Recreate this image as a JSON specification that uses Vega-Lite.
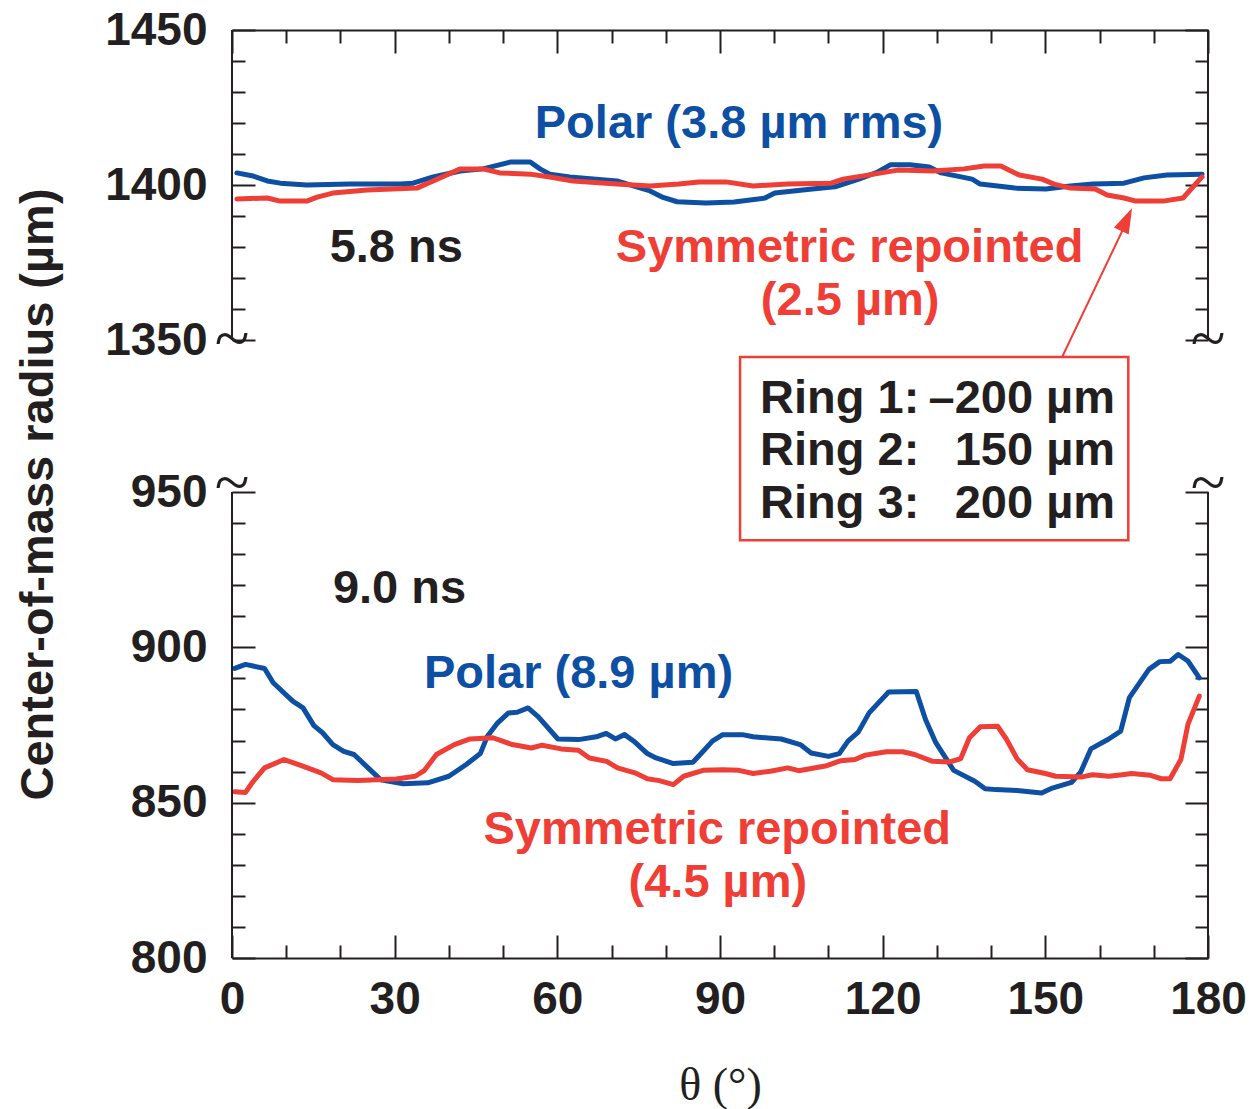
{
  "$schema": "https://vega.github.io/schema/vega-lite/v6.json",
  "width": 976,
  "height": 928,
  "autosize": "none",
  "padding": {"left": 232, "top": 30, "right": 44, "bottom": 151},
  "background": "white",
  "config": {"view": {"stroke": null}, "font": "Liberation Sans"},
  "datasets": {
    "curves": [
      {"time": "5.8 ns", "design": "Polar", "theta": 0.9, "radius": 1403.9},
      {"time": "5.8 ns", "design": "Polar", "theta": 3.9, "radius": 1402.9},
      {"time": "5.8 ns", "design": "Polar", "theta": 6.5, "radius": 1401.3},
      {"time": "5.8 ns", "design": "Polar", "theta": 8.9, "radius": 1400.6},
      {"time": "5.8 ns", "design": "Polar", "theta": 13.8, "radius": 1400.0},
      {"time": "5.8 ns", "design": "Polar", "theta": 21.8, "radius": 1400.3},
      {"time": "5.8 ns", "design": "Polar", "theta": 31.0, "radius": 1400.3},
      {"time": "5.8 ns", "design": "Polar", "theta": 33.4, "radius": 1400.6},
      {"time": "5.8 ns", "design": "Polar", "theta": 37.1, "radius": 1402.6},
      {"time": "5.8 ns", "design": "Polar", "theta": 42.1, "radius": 1404.5},
      {"time": "5.8 ns", "design": "Polar", "theta": 46.3, "radius": 1405.2},
      {"time": "5.8 ns", "design": "Polar", "theta": 51.3, "radius": 1407.4},
      {"time": "5.8 ns", "design": "Polar", "theta": 55.0, "radius": 1407.4},
      {"time": "5.8 ns", "design": "Polar", "theta": 56.8, "radius": 1405.2},
      {"time": "5.8 ns", "design": "Polar", "theta": 58.6, "radius": 1403.5},
      {"time": "5.8 ns", "design": "Polar", "theta": 62.3, "radius": 1402.6},
      {"time": "5.8 ns", "design": "Polar", "theta": 66.6, "radius": 1401.9},
      {"time": "5.8 ns", "design": "Polar", "theta": 71.0, "radius": 1401.3},
      {"time": "5.8 ns", "design": "Polar", "theta": 74.0, "radius": 1399.7},
      {"time": "5.8 ns", "design": "Polar", "theta": 77.1, "radius": 1398.1},
      {"time": "5.8 ns", "design": "Polar", "theta": 79.5, "radius": 1396.0},
      {"time": "5.8 ns", "design": "Polar", "theta": 82.1, "radius": 1394.6},
      {"time": "5.8 ns", "design": "Polar", "theta": 87.4, "radius": 1394.2},
      {"time": "5.8 ns", "design": "Polar", "theta": 92.6, "radius": 1394.5},
      {"time": "5.8 ns", "design": "Polar", "theta": 98.3, "radius": 1395.8},
      {"time": "5.8 ns", "design": "Polar", "theta": 100.1, "radius": 1397.4},
      {"time": "5.8 ns", "design": "Polar", "theta": 107.0, "radius": 1398.7},
      {"time": "5.8 ns", "design": "Polar", "theta": 111.2, "radius": 1399.4},
      {"time": "5.8 ns", "design": "Polar", "theta": 115.6, "radius": 1401.9},
      {"time": "5.8 ns", "design": "Polar", "theta": 119.1, "radius": 1404.2},
      {"time": "5.8 ns", "design": "Polar", "theta": 121.4, "radius": 1406.5},
      {"time": "5.8 ns", "design": "Polar", "theta": 125.0, "radius": 1406.5},
      {"time": "5.8 ns", "design": "Polar", "theta": 128.6, "radius": 1405.8},
      {"time": "5.8 ns", "design": "Polar", "theta": 130.8, "radius": 1403.9},
      {"time": "5.8 ns", "design": "Polar", "theta": 136.5, "radius": 1401.9},
      {"time": "5.8 ns", "design": "Polar", "theta": 138.0, "radius": 1400.3},
      {"time": "5.8 ns", "design": "Polar", "theta": 144.4, "radius": 1399.0},
      {"time": "5.8 ns", "design": "Polar", "theta": 150.1, "radius": 1398.7},
      {"time": "5.8 ns", "design": "Polar", "theta": 154.6, "radius": 1399.7},
      {"time": "5.8 ns", "design": "Polar", "theta": 158.8, "radius": 1400.3},
      {"time": "5.8 ns", "design": "Polar", "theta": 164.5, "radius": 1400.6},
      {"time": "5.8 ns", "design": "Polar", "theta": 168.2, "radius": 1402.3},
      {"time": "5.8 ns", "design": "Polar", "theta": 172.4, "radius": 1403.2},
      {"time": "5.8 ns", "design": "Polar", "theta": 178.9, "radius": 1403.5},
      {"time": "5.8 ns", "design": "Symmetric repointed", "theta": 0.9, "radius": 1395.5},
      {"time": "5.8 ns", "design": "Symmetric repointed", "theta": 6.5, "radius": 1395.8},
      {"time": "5.8 ns", "design": "Symmetric repointed", "theta": 8.9, "radius": 1394.8},
      {"time": "5.8 ns", "design": "Symmetric repointed", "theta": 13.8, "radius": 1394.8},
      {"time": "5.8 ns", "design": "Symmetric repointed", "theta": 15.7, "radius": 1396.1},
      {"time": "5.8 ns", "design": "Symmetric repointed", "theta": 18.6, "radius": 1397.4},
      {"time": "5.8 ns", "design": "Symmetric repointed", "theta": 24.9, "radius": 1398.4},
      {"time": "5.8 ns", "design": "Symmetric repointed", "theta": 34.1, "radius": 1399.0},
      {"time": "5.8 ns", "design": "Symmetric repointed", "theta": 37.1, "radius": 1401.3},
      {"time": "5.8 ns", "design": "Symmetric repointed", "theta": 42.1, "radius": 1405.2},
      {"time": "5.8 ns", "design": "Symmetric repointed", "theta": 46.3, "radius": 1405.2},
      {"time": "5.8 ns", "design": "Symmetric repointed", "theta": 49.4, "radius": 1403.9},
      {"time": "5.8 ns", "design": "Symmetric repointed", "theta": 55.0, "radius": 1403.5},
      {"time": "5.8 ns", "design": "Symmetric repointed", "theta": 58.6, "radius": 1402.6},
      {"time": "5.8 ns", "design": "Symmetric repointed", "theta": 62.9, "radius": 1401.3},
      {"time": "5.8 ns", "design": "Symmetric repointed", "theta": 71.0, "radius": 1400.3},
      {"time": "5.8 ns", "design": "Symmetric repointed", "theta": 77.1, "radius": 1399.7},
      {"time": "5.8 ns", "design": "Symmetric repointed", "theta": 82.4, "radius": 1400.3},
      {"time": "5.8 ns", "design": "Symmetric repointed", "theta": 86.1, "radius": 1401.0},
      {"time": "5.8 ns", "design": "Symmetric repointed", "theta": 91.1, "radius": 1401.0},
      {"time": "5.8 ns", "design": "Symmetric repointed", "theta": 96.1, "radius": 1399.7},
      {"time": "5.8 ns", "design": "Symmetric repointed", "theta": 102.5, "radius": 1400.3},
      {"time": "5.8 ns", "design": "Symmetric repointed", "theta": 110.5, "radius": 1400.6},
      {"time": "5.8 ns", "design": "Symmetric repointed", "theta": 112.7, "radius": 1401.9},
      {"time": "5.8 ns", "design": "Symmetric repointed", "theta": 118.4, "radius": 1403.5},
      {"time": "5.8 ns", "design": "Symmetric repointed", "theta": 122.8, "radius": 1404.8},
      {"time": "5.8 ns", "design": "Symmetric repointed", "theta": 129.3, "radius": 1404.5},
      {"time": "5.8 ns", "design": "Symmetric repointed", "theta": 135.0, "radius": 1405.2},
      {"time": "5.8 ns", "design": "Symmetric repointed", "theta": 138.7, "radius": 1406.1},
      {"time": "5.8 ns", "design": "Symmetric repointed", "theta": 141.8, "radius": 1406.1},
      {"time": "5.8 ns", "design": "Symmetric repointed", "theta": 145.2, "radius": 1403.2},
      {"time": "5.8 ns", "design": "Symmetric repointed", "theta": 149.4, "radius": 1401.9},
      {"time": "5.8 ns", "design": "Symmetric repointed", "theta": 151.6, "radius": 1400.3},
      {"time": "5.8 ns", "design": "Symmetric repointed", "theta": 154.6, "radius": 1399.0},
      {"time": "5.8 ns", "design": "Symmetric repointed", "theta": 159.2, "radius": 1398.7},
      {"time": "5.8 ns", "design": "Symmetric repointed", "theta": 161.4, "radius": 1396.8},
      {"time": "5.8 ns", "design": "Symmetric repointed", "theta": 164.5, "radius": 1395.8},
      {"time": "5.8 ns", "design": "Symmetric repointed", "theta": 166.7, "radius": 1394.8},
      {"time": "5.8 ns", "design": "Symmetric repointed", "theta": 171.7, "radius": 1394.8},
      {"time": "5.8 ns", "design": "Symmetric repointed", "theta": 175.4, "radius": 1395.8},
      {"time": "5.8 ns", "design": "Symmetric repointed", "theta": 178.9, "radius": 1402.6},
      {"time": "9.0 ns", "design": "Polar", "theta": 0.5, "radius": 893.2},
      {"time": "9.0 ns", "design": "Polar", "theta": 2.5, "radius": 894.5},
      {"time": "9.0 ns", "design": "Polar", "theta": 6.0, "radius": 893.2},
      {"time": "9.0 ns", "design": "Polar", "theta": 7.6, "radius": 888.6},
      {"time": "9.0 ns", "design": "Polar", "theta": 11.2, "radius": 882.7},
      {"time": "9.0 ns", "design": "Polar", "theta": 13.1, "radius": 880.5},
      {"time": "9.0 ns", "design": "Polar", "theta": 15.1, "radius": 874.8},
      {"time": "9.0 ns", "design": "Polar", "theta": 16.7, "radius": 872.5},
      {"time": "9.0 ns", "design": "Polar", "theta": 18.6, "radius": 868.7},
      {"time": "9.0 ns", "design": "Polar", "theta": 20.6, "radius": 866.5},
      {"time": "9.0 ns", "design": "Polar", "theta": 22.5, "radius": 865.5},
      {"time": "9.0 ns", "design": "Polar", "theta": 25.1, "radius": 861.2},
      {"time": "9.0 ns", "design": "Polar", "theta": 27.4, "radius": 857.4},
      {"time": "9.0 ns", "design": "Polar", "theta": 31.6, "radius": 856.1},
      {"time": "9.0 ns", "design": "Polar", "theta": 36.1, "radius": 856.4},
      {"time": "9.0 ns", "design": "Polar", "theta": 40.0, "radius": 858.5},
      {"time": "9.0 ns", "design": "Polar", "theta": 43.2, "radius": 862.3},
      {"time": "9.0 ns", "design": "Polar", "theta": 45.8, "radius": 865.8},
      {"time": "9.0 ns", "design": "Polar", "theta": 47.1, "radius": 871.4},
      {"time": "9.0 ns", "design": "Polar", "theta": 49.0, "radius": 875.7},
      {"time": "9.0 ns", "design": "Polar", "theta": 51.0, "radius": 878.9},
      {"time": "9.0 ns", "design": "Polar", "theta": 52.6, "radius": 879.1},
      {"time": "9.0 ns", "design": "Polar", "theta": 54.6, "radius": 880.5},
      {"time": "9.0 ns", "design": "Polar", "theta": 56.5, "radius": 877.6},
      {"time": "9.0 ns", "design": "Polar", "theta": 60.1, "radius": 870.5},
      {"time": "9.0 ns", "design": "Polar", "theta": 63.9, "radius": 870.3},
      {"time": "9.0 ns", "design": "Polar", "theta": 67.2, "radius": 871.2},
      {"time": "9.0 ns", "design": "Polar", "theta": 69.0, "radius": 872.3},
      {"time": "9.0 ns", "design": "Polar", "theta": 70.7, "radius": 870.5},
      {"time": "9.0 ns", "design": "Polar", "theta": 72.4, "radius": 871.9},
      {"time": "9.0 ns", "design": "Polar", "theta": 74.3, "radius": 869.5},
      {"time": "9.0 ns", "design": "Polar", "theta": 76.6, "radius": 865.8},
      {"time": "9.0 ns", "design": "Polar", "theta": 78.2, "radius": 864.4},
      {"time": "9.0 ns", "design": "Polar", "theta": 81.4, "radius": 862.6},
      {"time": "9.0 ns", "design": "Polar", "theta": 85.0, "radius": 863.0},
      {"time": "9.0 ns", "design": "Polar", "theta": 86.6, "radius": 866.0},
      {"time": "9.0 ns", "design": "Polar", "theta": 88.6, "radius": 869.8},
      {"time": "9.0 ns", "design": "Polar", "theta": 90.5, "radius": 871.9},
      {"time": "9.0 ns", "design": "Polar", "theta": 94.1, "radius": 871.9},
      {"time": "9.0 ns", "design": "Polar", "theta": 96.1, "radius": 871.2},
      {"time": "9.0 ns", "design": "Polar", "theta": 101.3, "radius": 870.5},
      {"time": "9.0 ns", "design": "Polar", "theta": 104.8, "radius": 868.7},
      {"time": "9.0 ns", "design": "Polar", "theta": 106.8, "radius": 866.0},
      {"time": "9.0 ns", "design": "Polar", "theta": 110.0, "radius": 864.9},
      {"time": "9.0 ns", "design": "Polar", "theta": 112.0, "radius": 865.8},
      {"time": "9.0 ns", "design": "Polar", "theta": 113.6, "radius": 869.8},
      {"time": "9.0 ns", "design": "Polar", "theta": 115.5, "radius": 872.7},
      {"time": "9.0 ns", "design": "Polar", "theta": 117.5, "radius": 878.9},
      {"time": "9.0 ns", "design": "Polar", "theta": 121.1, "radius": 885.6},
      {"time": "9.0 ns", "design": "Polar", "theta": 126.2, "radius": 885.8},
      {"time": "9.0 ns", "design": "Polar", "theta": 127.9, "radius": 876.8},
      {"time": "9.0 ns", "design": "Polar", "theta": 129.8, "radius": 869.3},
      {"time": "9.0 ns", "design": "Polar", "theta": 133.1, "radius": 860.4},
      {"time": "9.0 ns", "design": "Polar", "theta": 137.0, "radius": 856.9},
      {"time": "9.0 ns", "design": "Polar", "theta": 138.9, "radius": 854.5},
      {"time": "9.0 ns", "design": "Polar", "theta": 140.9, "radius": 854.2},
      {"time": "9.0 ns", "design": "Polar", "theta": 144.8, "radius": 853.9},
      {"time": "9.0 ns", "design": "Polar", "theta": 149.3, "radius": 853.1},
      {"time": "9.0 ns", "design": "Polar", "theta": 151.3, "radius": 854.7},
      {"time": "9.0 ns", "design": "Polar", "theta": 154.8, "radius": 856.5},
      {"time": "9.0 ns", "design": "Polar", "theta": 156.5, "radius": 859.8},
      {"time": "9.0 ns", "design": "Polar", "theta": 158.4, "radius": 867.3},
      {"time": "9.0 ns", "design": "Polar", "theta": 161.7, "radius": 870.5},
      {"time": "9.0 ns", "design": "Polar", "theta": 163.9, "radius": 873.0},
      {"time": "9.0 ns", "design": "Polar", "theta": 165.5, "radius": 883.8},
      {"time": "9.0 ns", "design": "Polar", "theta": 169.1, "radius": 892.9},
      {"time": "9.0 ns", "design": "Polar", "theta": 171.1, "radius": 895.4},
      {"time": "9.0 ns", "design": "Polar", "theta": 173.0, "radius": 895.5},
      {"time": "9.0 ns", "design": "Polar", "theta": 174.5, "radius": 897.7},
      {"time": "9.0 ns", "design": "Polar", "theta": 176.3, "radius": 895.6},
      {"time": "9.0 ns", "design": "Polar", "theta": 178.4, "radius": 890.2},
      {"time": "9.0 ns", "design": "Symmetric repointed", "theta": 0.5, "radius": 853.5},
      {"time": "9.0 ns", "design": "Symmetric repointed", "theta": 2.5, "radius": 853.3},
      {"time": "9.0 ns", "design": "Symmetric repointed", "theta": 3.7, "radius": 856.4},
      {"time": "9.0 ns", "design": "Symmetric repointed", "theta": 6.0, "radius": 861.2},
      {"time": "9.0 ns", "design": "Symmetric repointed", "theta": 9.6, "radius": 863.9},
      {"time": "9.0 ns", "design": "Symmetric repointed", "theta": 12.8, "radius": 861.9},
      {"time": "9.0 ns", "design": "Symmetric repointed", "theta": 16.4, "radius": 859.6},
      {"time": "9.0 ns", "design": "Symmetric repointed", "theta": 18.6, "radius": 857.4},
      {"time": "9.0 ns", "design": "Symmetric repointed", "theta": 23.2, "radius": 857.1},
      {"time": "9.0 ns", "design": "Symmetric repointed", "theta": 30.3, "radius": 857.6},
      {"time": "9.0 ns", "design": "Symmetric repointed", "theta": 33.8, "radius": 858.5},
      {"time": "9.0 ns", "design": "Symmetric repointed", "theta": 35.5, "radius": 860.4},
      {"time": "9.0 ns", "design": "Symmetric repointed", "theta": 37.7, "radius": 865.5},
      {"time": "9.0 ns", "design": "Symmetric repointed", "theta": 41.0, "radius": 868.7},
      {"time": "9.0 ns", "design": "Symmetric repointed", "theta": 43.9, "radius": 870.5},
      {"time": "9.0 ns", "design": "Symmetric repointed", "theta": 48.1, "radius": 870.9},
      {"time": "9.0 ns", "design": "Symmetric repointed", "theta": 51.7, "radius": 868.7},
      {"time": "9.0 ns", "design": "Symmetric repointed", "theta": 55.2, "radius": 867.6},
      {"time": "9.0 ns", "design": "Symmetric repointed", "theta": 57.2, "radius": 868.5},
      {"time": "9.0 ns", "design": "Symmetric repointed", "theta": 60.7, "radius": 867.3},
      {"time": "9.0 ns", "design": "Symmetric repointed", "theta": 63.9, "radius": 866.9},
      {"time": "9.0 ns", "design": "Symmetric repointed", "theta": 65.9, "radius": 864.4},
      {"time": "9.0 ns", "design": "Symmetric repointed", "theta": 69.1, "radius": 863.3},
      {"time": "9.0 ns", "design": "Symmetric repointed", "theta": 71.1, "radius": 861.2},
      {"time": "9.0 ns", "design": "Symmetric repointed", "theta": 74.3, "radius": 859.6},
      {"time": "9.0 ns", "design": "Symmetric repointed", "theta": 76.6, "radius": 857.7},
      {"time": "9.0 ns", "design": "Symmetric repointed", "theta": 78.8, "radius": 857.1},
      {"time": "9.0 ns", "design": "Symmetric repointed", "theta": 81.4, "radius": 855.8},
      {"time": "9.0 ns", "design": "Symmetric repointed", "theta": 83.3, "radius": 858.5},
      {"time": "9.0 ns", "design": "Symmetric repointed", "theta": 86.9, "radius": 860.4},
      {"time": "9.0 ns", "design": "Symmetric repointed", "theta": 90.5, "radius": 860.6},
      {"time": "9.0 ns", "design": "Symmetric repointed", "theta": 93.5, "radius": 860.4},
      {"time": "9.0 ns", "design": "Symmetric repointed", "theta": 96.1, "radius": 859.4},
      {"time": "9.0 ns", "design": "Symmetric repointed", "theta": 99.3, "radius": 860.1},
      {"time": "9.0 ns", "design": "Symmetric repointed", "theta": 102.5, "radius": 861.2},
      {"time": "9.0 ns", "design": "Symmetric repointed", "theta": 104.5, "radius": 860.3},
      {"time": "9.0 ns", "design": "Symmetric repointed", "theta": 109.7, "radius": 861.9},
      {"time": "9.0 ns", "design": "Symmetric repointed", "theta": 112.3, "radius": 863.5},
      {"time": "9.0 ns", "design": "Symmetric repointed", "theta": 114.9, "radius": 863.9},
      {"time": "9.0 ns", "design": "Symmetric repointed", "theta": 116.8, "radius": 865.3},
      {"time": "9.0 ns", "design": "Symmetric repointed", "theta": 120.7, "radius": 866.4},
      {"time": "9.0 ns", "design": "Symmetric repointed", "theta": 123.7, "radius": 866.4},
      {"time": "9.0 ns", "design": "Symmetric repointed", "theta": 125.9, "radius": 865.5},
      {"time": "9.0 ns", "design": "Symmetric repointed", "theta": 129.2, "radius": 863.3},
      {"time": "9.0 ns", "design": "Symmetric repointed", "theta": 132.4, "radius": 863.1},
      {"time": "9.0 ns", "design": "Symmetric repointed", "theta": 134.4, "radius": 864.2},
      {"time": "9.0 ns", "design": "Symmetric repointed", "theta": 136.0, "radius": 870.9},
      {"time": "9.0 ns", "design": "Symmetric repointed", "theta": 138.0, "radius": 874.4},
      {"time": "9.0 ns", "design": "Symmetric repointed", "theta": 141.2, "radius": 874.6},
      {"time": "9.0 ns", "design": "Symmetric repointed", "theta": 142.8, "radius": 870.5},
      {"time": "9.0 ns", "design": "Symmetric repointed", "theta": 144.8, "radius": 864.1},
      {"time": "9.0 ns", "design": "Symmetric repointed", "theta": 146.7, "radius": 860.6},
      {"time": "9.0 ns", "design": "Symmetric repointed", "theta": 150.0, "radius": 859.4},
      {"time": "9.0 ns", "design": "Symmetric repointed", "theta": 151.9, "radius": 858.5},
      {"time": "9.0 ns", "design": "Symmetric repointed", "theta": 156.8, "radius": 858.3},
      {"time": "9.0 ns", "design": "Symmetric repointed", "theta": 158.7, "radius": 859.0},
      {"time": "9.0 ns", "design": "Symmetric repointed", "theta": 161.7, "radius": 858.5},
      {"time": "9.0 ns", "design": "Symmetric repointed", "theta": 164.2, "radius": 859.0},
      {"time": "9.0 ns", "design": "Symmetric repointed", "theta": 165.9, "radius": 859.4},
      {"time": "9.0 ns", "design": "Symmetric repointed", "theta": 169.4, "radius": 858.8},
      {"time": "9.0 ns", "design": "Symmetric repointed", "theta": 171.4, "radius": 857.7},
      {"time": "9.0 ns", "design": "Symmetric repointed", "theta": 173.0, "radius": 857.7},
      {"time": "9.0 ns", "design": "Symmetric repointed", "theta": 175.0, "radius": 863.9},
      {"time": "9.0 ns", "design": "Symmetric repointed", "theta": 176.3, "radius": 875.2},
      {"time": "9.0 ns", "design": "Symmetric repointed", "theta": 178.4, "radius": 884.3}
    ],
    "notes": [
      {"text": "Polar (3.8 µm rms)", "theta": 93.5, "radius": 1415.2, "design": "Polar"},
      {"text": "5.8 ns", "theta": 30.3, "radius": 1375.2, "design": "label"},
      {"text": "Symmetric repointed", "theta": 113.9, "radius": 1375.2, "design": "Symmetric repointed"},
      {"text": "(2.5 µm)", "theta": 114.0, "radius": 1358.1, "design": "Symmetric repointed"},
      {"text": "9.0 ns", "theta": 30.9, "radius": 914.2, "design": "label"},
      {"text": "Polar (8.9 µm)", "theta": 63.9, "radius": 886.8, "design": "Polar"},
      {"text": "Symmetric repointed", "theta": 89.5, "radius": 836.8, "design": "Symmetric repointed"},
      {"text": "(4.5 µm)", "theta": 89.6, "radius": 819.7, "design": "Symmetric repointed"}
    ],
    "rings": [
      {"ring": "Ring 1:", "shift": "–200 µm", "radius": 1158.0},
      {"ring": "Ring 2:", "shift": "150 µm", "radius": 1020.0},
      {"ring": "Ring 3:", "shift": "200 µm", "radius": 941.6}
    ],
    "breaksTop": [{"theta": 0, "radius": 1350}, {"theta": 180, "radius": 1350}],
    "breaksBottom": [{"theta": 0, "radius": 950}, {"theta": 180, "radius": 950}]
  },
  "resolve": {"axis": {"x": "independent", "y": "independent"}},
  "layer": [
    {
      "data": {"name": "curves"},
      "mark": {"type": "line", "strokeWidth": 5, "strokeJoin": "round", "strokeCap": "round"},
      "encoding": {
        "x": {
          "field": "theta", "type": "quantitative",
          "scale": {"domain": [0, 180], "nice": false, "zero": false},
          "axis": {
            "orient": "bottom",
            "values": [0, 10, 20, 30, 40, 50, 60, 70, 80, 90, 100, 110, 120, 130, 140, 150, 160, 170, 180],
            "domain": true, "domainColor": "#231f20", "domainWidth": 2,
            "ticks": true, "tickColor": "#231f20", "tickWidth": 2,
            "tickSize": {"condition": {"test": "datum.value % 30 === 0", "value": -23}, "value": -13},
            "labelExpr": "datum.value % 30 === 0 ? datum.label : ''",
            "labelFont": "Liberation Sans", "labelFontSize": 46, "labelFontWeight": "bold", "labelColor": "#231f20",
            "labelPadding": 42, "labelFlush": false, "labelOverlap": false, "labelBound": false,
            "grid": false,
            "title": "θ (°)", "titleFont": "Liberation Serif", "titleFontSize": 46, "titleFontWeight": "normal",
            "titleColor": "#231f20", "titleX": 488, "titleY": 141, "titleBaseline": "alphabetic", "titleAlign": "center"
          }
        },
        "y": {
          "field": "radius", "type": "quantitative",
          "scale": {"domain": [800, 950, 1350, 1450], "range": [928, 462, 310, 0], "nice": false, "zero": false},
          "axis": {
            "orient": "left",
            "values": [800, 810, 820, 830, 840, 850, 860, 870, 880, 890, 900, 910, 920, 930, 940, 950, 1350, 1360, 1370, 1380, 1390, 1400, 1410, 1420, 1430, 1440, 1450],
            "format": "d",
            "domain": false,
            "ticks": true, "tickColor": "#231f20", "tickWidth": 2,
            "tickSize": {"condition": {"test": "datum.value % 50 === 0", "value": -23}, "value": -13},
            "labelExpr": "datum.value % 50 === 0 ? datum.label : ''",
            "labelFont": "Liberation Sans", "labelFontSize": 46, "labelFontWeight": "bold", "labelColor": "#231f20",
            "labelPadding": 48, "labelOverlap": false, "labelBound": false,
            "grid": false,
            "title": "Center-of-mass radius (µm)", "titleFont": "Liberation Sans", "titleFontSize": 47, "titleFontWeight": "bold",
            "titleColor": "#231f20", "titleAngle": 270, "titleX": -180, "titleY": 464, "titleBaseline": "alphabetic", "titleAlign": "center"
          }
        },
        "color": {
          "field": "design", "type": "nominal",
          "scale": {"domain": ["Polar", "Symmetric repointed", "label"], "range": ["#0d4fa3", "#ef3e36", "#231f20"]},
          "legend": null
        },
        "detail": {"field": "time"}
      }
    },
    {
      "data": {"values": [{}]},
      "mark": {"type": "rule", "strokeWidth": 2, "color": "#231f20"},
      "encoding": {
        "x": {
          "datum": 180, "type": "quantitative",
          "axis": {
            "orient": "top",
            "values": [0, 10, 20, 30, 40, 50, 60, 70, 80, 90, 100, 110, 120, 130, 140, 150, 160, 170, 180],
            "domain": true, "domainColor": "#231f20", "domainWidth": 2,
            "ticks": true, "tickColor": "#231f20", "tickWidth": 2,
            "tickSize": {"condition": {"test": "datum.value % 30 === 0", "value": -23}, "value": -13},
            "labels": false, "grid": false, "title": null
          }
        },
        "y": {
          "datum": 1350, "type": "quantitative",
          "axis": {
            "orient": "right",
            "values": [800, 810, 820, 830, 840, 850, 860, 870, 880, 890, 900, 910, 920, 930, 940, 950, 1350, 1360, 1370, 1380, 1390, 1400, 1410, 1420, 1430, 1440, 1450],
            "domain": false,
            "ticks": true, "tickColor": "#231f20", "tickWidth": 2,
            "tickSize": {"condition": {"test": "datum.value % 50 === 0", "value": -23}, "value": -13},
            "labels": false, "grid": false, "title": null
          }
        },
        "y2": {"datum": 1450}
      }
    },
    {
      "data": {"values": [{}]},
      "mark": {"type": "rule", "strokeWidth": 2, "color": "#231f20"},
      "encoding": {
        "x": {"datum": 180, "type": "quantitative", "axis": null},
        "y": {"datum": 800, "type": "quantitative", "axis": null},
        "y2": {"datum": 950}
      }
    },
    {
      "data": {"values": [{}]},
      "mark": {"type": "rule", "strokeWidth": 2, "color": "#231f20"},
      "encoding": {
        "x": {"datum": 0, "type": "quantitative", "axis": null},
        "y": {"datum": 800, "type": "quantitative", "axis": null},
        "y2": {"datum": 950}
      }
    },
    {
      "data": {"values": [{}]},
      "mark": {"type": "rule", "strokeWidth": 2, "color": "#231f20"},
      "encoding": {
        "x": {"datum": 0, "type": "quantitative", "axis": null},
        "y": {"datum": 1350, "type": "quantitative", "axis": null},
        "y2": {"datum": 1450}
      }
    },
    {
      "data": {"name": "breaksTop"},
      "mark": {"type": "text", "text": "~", "font": "Liberation Serif", "fontSize": 64, "align": "center", "baseline": "middle", "dy": 1, "color": "#231f20"},
      "encoding": {
        "x": {"field": "theta", "type": "quantitative", "axis": null},
        "y": {"field": "radius", "type": "quantitative", "axis": null}
      }
    },
    {
      "data": {"name": "breaksBottom"},
      "mark": {"type": "text", "text": "~", "font": "Liberation Serif", "fontSize": 64, "align": "center", "baseline": "middle", "dy": -7, "color": "#231f20"},
      "encoding": {
        "x": {"field": "theta", "type": "quantitative", "axis": null},
        "y": {"field": "radius", "type": "quantitative", "axis": null}
      }
    },
    {
      "data": {"name": "notes"},
      "mark": {"type": "text", "font": "Liberation Sans", "fontSize": 47, "fontWeight": "bold", "align": "center", "baseline": "alphabetic"},
      "encoding": {
        "x": {"field": "theta", "type": "quantitative", "axis": null},
        "y": {"field": "radius", "type": "quantitative", "axis": null},
        "text": {"field": "text"},
        "color": {"field": "design", "type": "nominal", "legend": null}
      }
    },
    {
      "data": {"values": [{}]},
      "mark": {"type": "rect", "fillOpacity": 0, "stroke": "#ef3e36", "strokeWidth": 2.5},
      "encoding": {
        "x": {"datum": 93.7, "type": "quantitative", "axis": null},
        "x2": {"datum": 165.3},
        "y": {"datum": 934.5, "type": "quantitative", "axis": null},
        "y2": {"datum": 1305.3}
      }
    },
    {
      "data": {"name": "rings"},
      "mark": {"type": "text", "font": "Liberation Sans", "fontSize": 47, "fontWeight": "bold", "align": "left", "baseline": "alphabetic", "color": "#231f20"},
      "encoding": {
        "x": {"datum": 97.4, "type": "quantitative", "axis": null},
        "y": {"field": "radius", "type": "quantitative", "axis": null},
        "text": {"field": "ring"}
      }
    },
    {
      "data": {"name": "rings"},
      "mark": {"type": "text", "font": "Liberation Sans", "fontSize": 47, "fontWeight": "bold", "align": "right", "baseline": "alphabetic", "color": "#231f20"},
      "encoding": {
        "x": {"datum": 162.85, "type": "quantitative", "axis": null},
        "y": {"field": "radius", "type": "quantitative", "axis": null},
        "text": {"field": "shift"}
      }
    },
    {
      "data": {"values": [{}]},
      "mark": {"type": "rule", "strokeWidth": 2, "color": "#ef3e36"},
      "encoding": {
        "x": {"datum": 153.1, "type": "quantitative", "axis": null},
        "y": {"datum": 1305.3, "type": "quantitative", "axis": null},
        "x2": {"datum": 165.5},
        "y2": {"datum": 1390.0}
      }
    },
    {
      "data": {"values": [{}]},
      "mark": {"type": "point", "shape": "M0,0L0.32,1L-0.32,1Z", "filled": true, "opacity": 1, "color": "#ef3e36", "size": 2600, "angle": 25},
      "encoding": {
        "x": {"datum": 166.0, "type": "quantitative", "axis": null},
        "y": {"datum": 1392.6, "type": "quantitative", "axis": null}
      }
    }
  ]
}
